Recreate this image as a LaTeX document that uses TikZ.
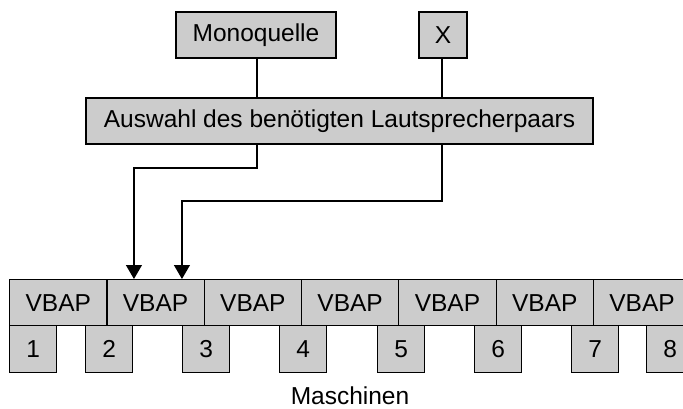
\documentclass[tikz,border=0pt]{standalone}
\usepackage{fontspec}
\setmainfont{Liberation Sans}
\usetikzlibrary{arrows.meta}
\definecolor{boxgray}{gray}{0.8}
\begin{document}
\begin{tikzpicture}[x=1pt,y=-1pt,
  every node/.style={font=\fontsize{24.5}{29}\selectfont, inner sep=0pt},
  grbox/.style={draw=black, fill=boxgray, line width=1.2pt, minimum height=46pt},
  link/.style={line width=1.2pt},
  feed/.style={link, -{Triangle[width=16pt,length=14pt]}},
]
\useasboundingbox (0,0) rectangle (683,409);
\clip (0,0) rectangle (683,409);

% sources
\node[grbox, minimum width=160pt] (mono) at (256,35) {Monoquelle};
\node[grbox, minimum width=48pt] (xsrc) at (443,35) {X};

% loudspeaker pair selection
\node[grbox, minimum width=507pt] (sel) at (339.5,121) {Auswahl des benötigten Lautsprecherpaars};

% VBAP row
\foreach \i in {1,...,7} {
  \node[grbox, minimum width=97.3pt, anchor=north west] (v\i) at ({9+97.3*(\i-1)},279) {VBAP};
}

% machine boxes
\foreach \i/\x in {1/9, 2/85, 3/182, 4/279, 5/377, 6/474, 7/571, 8/646} {
  \node[grbox, minimum width=47pt, minimum height=47pt, anchor=north west] (m\i) at (\x,325) {\i};
}

\node (lbl) at (350,396) {Maschinen};

% inputs on the second VBAP block
\coordinate (in1) at ([xshift=-21.6pt]v2.north);
\coordinate (in2) at ([xshift=26.4pt]v2.north);

% connections
\draw[link] (mono.south -| 257,0) -- (sel.north -| 257,0);
\draw[link] (xsrc.south -| 442,0) -- (sel.north -| 442,0);
\draw[feed] (sel.south -| 257,0) -- (257,168) -| (in1);
\draw[feed] (sel.south -| 442,0) -- (442,201) -| (in2);
\end{tikzpicture}
\end{document}
